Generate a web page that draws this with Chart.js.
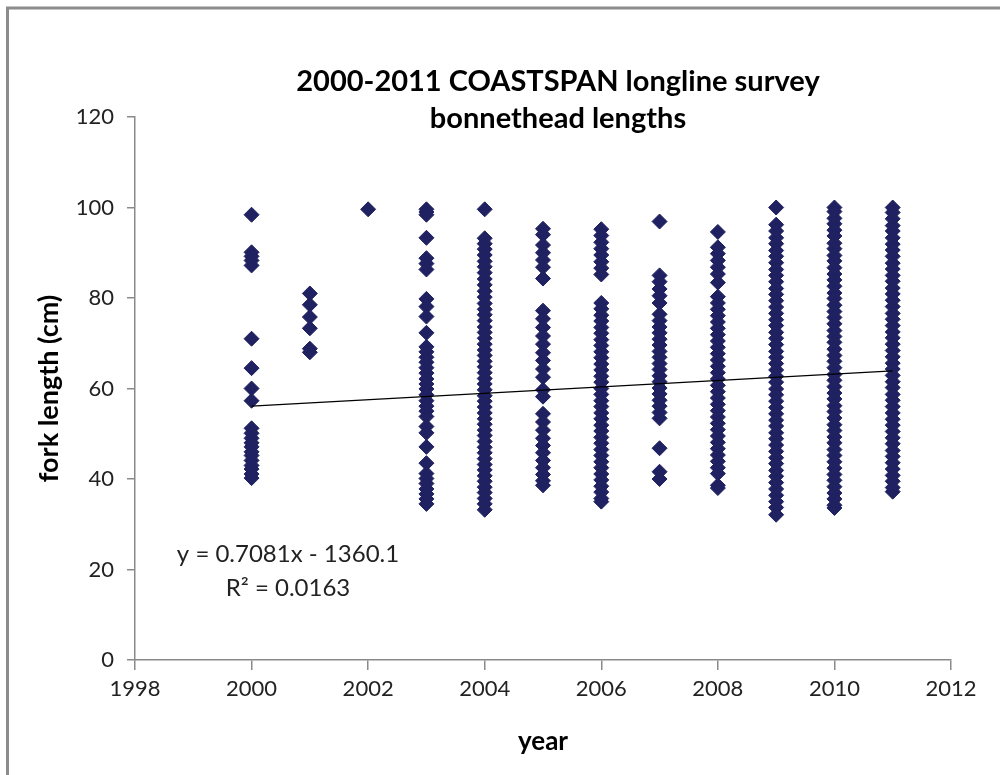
<!DOCTYPE html>
<html>
<head>
<meta charset="utf-8">
<script src="https://cdn.jsdelivr.net/npm/chart.js@4"></script>
<style>
  html, body { margin: 0; padding: 0; background: #fff; }
  #wrap { width: 1000px; height: 775px; }
</style>
</head>
<body>
<div id="wrap"><canvas id="chartLengths" width="1000" height="775"></canvas></div>
<script>
// fork lengths (cm), one array per survey year
const years = [2000, 2001, 2002, 2003, 2004, 2005, 2006, 2007, 2008, 2009, 2010, 2011];
const len2000 = [98.4, 90.1, 89.2, 88.3, 87.2, 71.0, 64.5, 60.0, 57.3, 51.2, 50.1, 49.0, 48.0, 47.1, 46.0, 45.2, 44.1, 43.0, 42.2, 41.1, 40.2];
const len2001 = [81.0, 78.5, 75.8, 73.3, 68.8, 68.0];
const len2002 = [99.6];
const len2003 = [99.6, 99.0, 98.4, 93.3, 88.8, 87.6, 86.3, 79.8, 78.1, 75.9, 72.3, 69.2, 68.1, 66.9, 65.8, 64.6, 63.4, 62.1, 61.0, 59.9, 58.6, 57.3, 56.1, 55.0, 53.8, 51.6, 50.2, 47.1, 43.5, 41.2, 40.1, 39.0, 37.8, 36.7, 35.6, 34.5];
const len2004 = [99.6, 93.2, 92.0, 90.8, 89.5, 88.1, 86.9, 85.6, 84.2, 82.9, 81.5, 80.2, 78.8, 77.5, 76.3, 75.0, 73.6, 72.4, 71.1, 69.8, 68.5, 67.3, 66.0, 64.8, 63.5, 62.2, 61.0, 59.7, 58.4, 57.2, 55.9, 54.6, 53.3, 52.1, 50.8, 49.6, 48.3, 47.0, 45.8, 44.5, 43.2, 42.0, 40.7, 39.5, 38.2, 37.0, 35.7, 34.5, 33.2];
const len2005 = [95.3, 94.0, 91.7, 90.0, 88.4, 86.8, 84.3, 77.2, 75.4, 73.5, 71.6, 69.8, 67.9, 66.2, 64.3, 62.5, 59.7, 58.2, 54.4, 52.6, 50.8, 49.0, 47.4, 45.8, 44.1, 42.5, 41.0, 39.6, 38.6];
const len2006 = [95.2, 93.8, 92.3, 90.9, 89.5, 88.0, 86.6, 85.2, 78.9, 77.6, 76.2, 74.9, 73.5, 72.2, 70.8, 69.5, 68.1, 66.8, 65.4, 64.1, 62.7, 61.4, 60.0, 58.7, 57.3, 56.0, 54.6, 53.3, 51.9, 50.6, 49.2, 47.9, 46.5, 45.2, 43.8, 42.5, 41.1, 39.8, 38.4, 37.1, 35.7, 35.0];
const len2007 = [96.9, 85.0, 83.6, 82.0, 80.5, 78.9, 76.4, 75.0, 73.6, 72.3, 70.9, 69.6, 68.2, 66.9, 65.5, 64.2, 62.8, 61.5, 60.1, 58.8, 57.4, 56.1, 54.7, 53.4, 46.8, 41.6, 40.0];
const len2008 = [94.6, 91.2, 89.8, 88.3, 86.8, 85.3, 83.4, 80.3, 78.9, 77.5, 76.1, 74.7, 73.3, 71.9, 70.5, 69.1, 67.7, 66.3, 64.9, 63.5, 62.1, 60.7, 59.3, 57.9, 56.5, 55.1, 53.7, 52.3, 50.9, 49.5, 48.1, 46.7, 45.3, 43.9, 42.5, 41.2, 38.6, 38.0];
const len2009 = [100.0, 96.2, 94.8, 93.3, 92.0, 90.5, 89.2, 87.8, 86.3, 85.0, 83.6, 82.1, 80.8, 79.4, 78.0, 76.6, 75.2, 73.9, 72.4, 71.1, 69.7, 68.2, 66.9, 65.5, 64.1, 62.7, 61.4, 59.9, 58.6, 57.2, 55.8, 54.4, 53.0, 51.7, 50.2, 48.9, 47.5, 46.1, 44.7, 43.4, 41.9, 40.6, 39.2, 37.8, 36.4, 35.0, 33.7, 32.1];
const len2010 = [100.0, 99.1, 97.6, 96.4, 95.0, 93.7, 92.1, 90.9, 89.4, 88.2, 86.7, 85.3, 84.0, 82.6, 81.1, 79.9, 78.4, 77.0, 75.7, 74.3, 72.8, 71.5, 70.2, 68.7, 67.3, 66.0, 64.6, 63.1, 61.8, 60.4, 59.0, 57.7, 56.2, 54.9, 53.5, 52.0, 50.7, 49.3, 48.0, 46.5, 45.2, 43.8, 42.4, 41.0, 39.7, 38.3, 36.9, 35.6, 34.2, 33.6];
const len2011 = [100.0, 98.9, 97.5, 96.0, 94.8, 93.3, 91.9, 90.6, 89.2, 87.7, 86.4, 85.0, 83.7, 82.2, 80.9, 79.5, 78.1, 76.6, 75.3, 73.9, 72.5, 71.2, 69.8, 68.4, 67.0, 65.6, 64.3, 62.9, 61.5, 60.2, 58.7, 57.4, 56.0, 54.6, 53.2, 51.9, 50.5, 49.1, 47.8, 46.3, 45.0, 43.6, 42.2, 40.8, 39.5, 38.1, 37.2];

// linear trend as printed on the chart (y = 0.7081x - 1360.1)
const trendYears = [2000, 2011];
const trendValues = [56.1, 63.9];
const trendLabel = 'y = 0.7081x - 1360.1';
const r2Label = 'R\u00B2 = 0.0163';

const xTicks = [1998, 2000, 2002, 2004, 2006, 2008, 2010, 2012];
const yTicks = [0, 20, 40, 60, 80, 100, 120];

const lengthsByYear = [len2000, len2001, len2002, len2003, len2004, len2005, len2006, len2007, len2008, len2009, len2010, len2011];
const scatterPoints = [];
years.forEach((yr, i) => {
    lengthsByYear[i].forEach(v => scatterPoints.push({ x: yr, y: v }));
});
const trendPoints = trendYears.map((yr, i) => ({ x: yr, y: trendValues[i] }));

const FONT = 'Lato, "Open Sans", sans-serif';
const navy = '#1f2161';

const frameAndText = {
    id: 'frameAndText',
    beforeDraw(chart) {
        const ctx = chart.ctx;
        ctx.save();
        ctx.strokeStyle = '#8c8c8c';
        ctx.lineWidth = 3;
        ctx.beginPath();
        ctx.moveTo(7.5, 775);
        ctx.lineTo(7.5, 8);
        ctx.lineTo(1000, 8);
        ctx.stroke();
        ctx.restore();
    },
    afterDraw(chart) {
        const ctx = chart.ctx;
        ctx.save();
        ctx.fillStyle = '#000';
        ctx.textAlign = 'center';
        ctx.textBaseline = 'middle';
        ctx.font = 'bold 29px ' + FONT;
        ctx.fillText('2000-2011 COASTSPAN longline survey', 558, 82);
        ctx.fillText('bonnethead lengths', 558, 119);
        ctx.fillStyle = '#222';
        ctx.font = '24px ' + FONT;
        ctx.fillText(trendLabel, 288, 554);
        ctx.fillText(r2Label, 288, 588);
        ctx.restore();
    }
};

const ctx = document.getElementById('chartLengths').getContext('2d');
new Chart(ctx, {
    type: 'scatter',
    data: {
        datasets: [{
            type: 'line',
            label: 'trend',
            data: trendPoints,
            borderColor: '#000',
            borderWidth: 1.2,
            pointRadius: 0,
            fill: false,
            order: 0
        }, {
            label: 'fork length',
            data: scatterPoints,
            pointStyle: 'rectRot',
            pointRadius: 7.5,
            pointHoverRadius: 7.5,
            backgroundColor: navy,
            borderColor: navy,
            borderWidth: 1,
            order: 1
        }]
    },
    options: {
        responsive: false,
        animation: false,
        events: [],
        layout: { padding: { left: 29, right: 49, top: 117, bottom: 14 } },
        plugins: {
            legend: { display: false },
            tooltip: { enabled: false }
        },
        scales: {
            x: {
                type: 'linear',
                min: 1998,
                max: 2012,
                afterBuildTicks: s => { s.ticks = xTicks.map(v => ({ value: v })); },
                afterFit: s => { s.height = 775 - 660 - 14; },
                grid: { drawOnChartArea: false, color: '#8a8a8a', tickLength: 10, lineWidth: 1.5 },
                border: { color: '#8a8a8a', width: 1.5 },
                ticks: { color: '#222', font: { family: FONT, size: 22 }, padding: 6, maxRotation: 0, callback: v => String(v) },
                title: { display: true, text: 'year', color: '#000', font: { family: FONT, size: 26, weight: 'bold' }, padding: { top: 4, bottom: 4 } }
            },
            y: {
                min: 0,
                max: 120,
                afterBuildTicks: s => { s.ticks = yTicks.map(v => ({ value: v })); },
                afterFit: s => { s.width = 135 - 29; },
                grid: { drawOnChartArea: false, color: '#8a8a8a', tickLength: 8, lineWidth: 1.5 },
                border: { color: '#8a8a8a', width: 1.5 },
                ticks: { color: '#222', font: { family: FONT, size: 22 }, padding: 13 },
                title: { display: true, text: 'fork length (cm)', color: '#000', font: { family: FONT, size: 27, weight: 'bold' }, padding: { top: 4, bottom: 4 } }
            }
        }
    },
    plugins: [frameAndText]
});
</script>
</body>
</html>
